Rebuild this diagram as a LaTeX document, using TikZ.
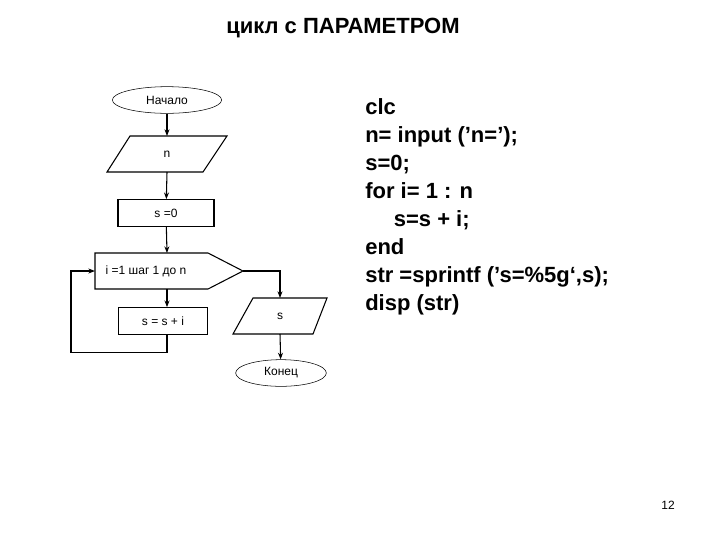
\documentclass[tikz,border=0pt]{standalone}
\usepackage{fontspec}
\setmainfont{Liberation Sans}
\usetikzlibrary{shapes.geometric,arrows.meta}
\newcommand{\sq}{\char"0027{}}
\begin{document}
\begin{tikzpicture}[x=0.75pt,y=-0.75pt,
  box/.style={draw,thick,minimum width=72pt,minimum height=20pt,inner sep=0pt,font=\small},
  term/.style={draw,ellipse,inner sep=0pt,font=\small},
  arr/.style={thick,-{Stealth[length=5pt]}},
  ln/.style={thick}]
\useasboundingbox (0,0) rectangle (720,540);
\node[font=\fontsize{16.5}{20}\selectfont\bfseries] (title) at (343,28) {цикл с ПАРАМЕТРОМ};
\node[term,minimum width=82pt,minimum height=20pt] (start) at (167,100) {Начало};
\draw[thick] (130,136) -- (227,136) -- (203,172) -- (107,172) -- cycle;
\node[font=\small] (n) at (167,154) {n};
\node[box] (s0) at (166,213) {s =0};
\draw[thick] (95,253) -- (208,253) -- (243,271) -- (208,289) -- (95,289) -- cycle;
\coordinate (loopL) at (95,271);
\coordinate (loopR) at (243,271);
\node[font=\small,anchor=west] (loop) at (101,271) {i =1 шаг 1 до n};
\node[box,minimum width=67pt] (ss) at (163,321) {s = s + i};
\draw[thick] (253,298) -- (327,298) -- (313,334) -- (233,334) -- cycle;
\node[font=\small] (sout) at (280,316) {s};
\node[term,minimum width=68pt,minimum height=20pt] (end) at (281,373) {Конец};
\coordinate (lt) at (167,253);
\coordinate (lb) at (167,289);
\coordinate (nt) at (167,136);
\coordinate (nb) at (167,172);
\coordinate (st) at (280,298);
\coordinate (sb) at (280,334);
\draw[arr] (start) -- (nt);
\draw[arr] (nb) -- (s0);
\draw[arr] (s0) -- (lt);
\draw[arr] (lb) -- (ss.north -| lb);
\draw[arr] (ss.south -| lb) -- ++(0,18) -| (71,271) -- (loopL);
\draw[arr] (loopR) -| (st);
\draw[arr] (sb) -- (end);
\node[anchor=north west,font=\fontsize{16.5}{21}\selectfont\bfseries,align=left,inner sep=0pt] (code) at (365,98) {clc\\n= input (\sq n=\sq);\\s=0;\\for i= 1 : n\\\hspace*{1.3em}s=s + i;\\end\\str =sprintf (\sq s=\%5g‘,s);\\disp (str)};
\node[font=\small] (page) at (668,505) {12};
\end{tikzpicture}
\end{document}
